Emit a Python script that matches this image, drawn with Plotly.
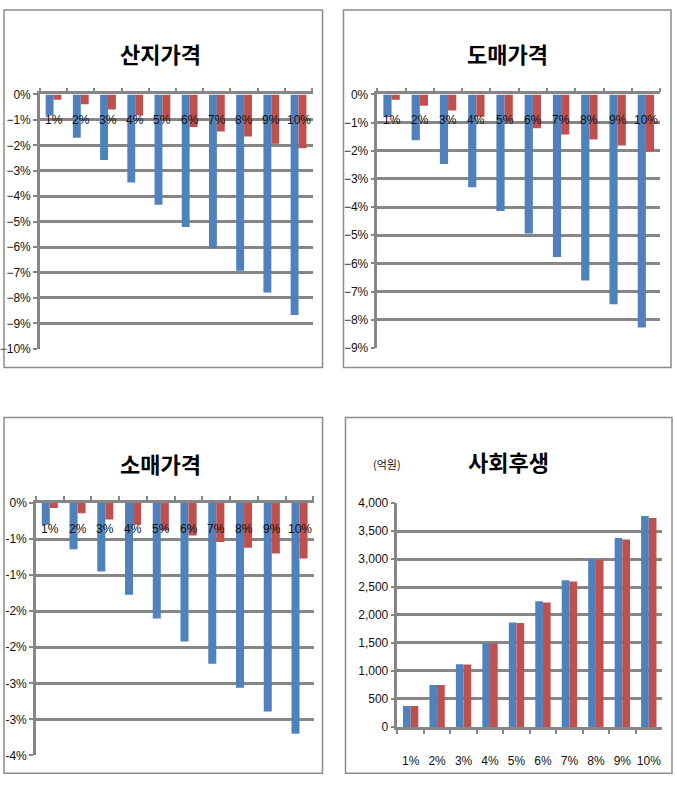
import plotly.graph_objects as go

W, H = 677, 788

categories = ["1%", "2%", "3%", "4%", "5%", "6%", "7%", "8%", "9%", "10%"]

# 산지가격 (%)
farm_blue = [-0.83, -1.70, -2.58, -3.46, -4.34, -5.21, -6.05, -6.93, -7.79, -8.67]
farm_red = [-0.21, -0.39, -0.59, -0.83, -0.99, -1.28, -1.46, -1.65, -1.94, -2.12]

# 도매가격 (%)
whole_blue = [-0.80, -1.63, -2.47, -3.30, -4.14, -4.94, -5.77, -6.61, -7.45, -8.28]
whole_red = [-0.19, -0.40, -0.57, -0.79, -0.96, -1.20, -1.42, -1.60, -1.81, -2.03]

# 소매가격 (%)
retail_blue = [-0.30, -0.64, -0.95, -1.27, -1.60, -1.92, -2.23, -2.56, -2.89, -3.20]
retail_red = [-0.07, -0.14, -0.23, -0.30, -0.38, -0.45, -0.54, -0.62, -0.70, -0.77]
retail_tickvals = [0, -0.5, -1.0, -1.5, -2.0, -2.5, -3.0, -3.5]
retail_ticktext = ["0%", "-1%", "-1%", "-2%", "-2%", "-3%", "-3%", "-4%"]

# 사회후생 (억원)
welfare_blue = [375, 750, 1122, 1495, 1865, 2245, 2620, 3000, 3375, 3770]
welfare_red = [373, 748, 1118, 1490, 1858, 2225, 2598, 2980, 3350, 3733]

titles = ["산지가격", "도매가격", "소매가격", "사회후생"]
unit_label = "(억원)"

BLUE = "#4F81BD"
RED = "#C0504D"
GRID = "#868686"
TICKFONT = dict(family="Liberation Sans Narrow, Arial Narrow, Liberation Sans, Arial", size=12, color="#111111")
TITLEFONT = dict(family="Noto Sans CJK KR", size=22, color="#000000")


def fx(x):
    return x / W


def fy(y):
    return 1 - y / H


# plot-area pixel boxes (left, top, right, bottom) and border boxes
plots = [
    (39, 89, 312, 348),
    (377, 89, 660, 347),
    (35, 505, 313, 762),
    (397, 505, 662, 733),
]
borders = [
    (3, 3, 322, 367),
    (343, 3, 671, 367),
    (3, 418, 322, 780),
    (345, 418, 672, 780),
]
title_pos = [(160, 47), (507, 47), (160, 464), (508, 462)]

series = [
    (farm_blue, farm_red),
    (whole_blue, whole_red),
    (retail_blue, retail_red),
    (welfare_blue, welfare_red),
]

fig = go.Figure()
for i, (b, r) in enumerate(series):
    n = "" if i == 0 else str(i + 1)
    fig.add_trace(go.Bar(x=categories, y=b, marker=dict(color=BLUE, line=dict(width=0)),
                         xaxis="x" + n, yaxis="y" + n, showlegend=False))
    fig.add_trace(go.Bar(x=categories, y=r, marker=dict(color=RED, line=dict(width=0)),
                         xaxis="x" + n, yaxis="y" + n, showlegend=False))

layout = dict(
    width=W, height=H,
    margin=dict(l=0, r=0, t=0, b=0),
    paper_bgcolor="white", plot_bgcolor="white",
    barmode="group", bargap=0.42, bargroupgap=0,
    showlegend=False,
)

yranges = [[-10, 0], [-9, 0], [-3.5, 0], [0, 4000]]

annotations = []

for i, (l, t, r, btm) in enumerate(plots):
    n = "" if i == 0 else str(i + 1)
    xa = dict(
        domain=[fx(l), fx(r)],
        anchor="y" + n,
        type="category",
        showline=True, linecolor=GRID, linewidth=2.5,
        showgrid=False, zeroline=False,
        ticks="outside", ticklen=4, tickcolor=GRID, tickwidth=1.5,
        tickson="boundaries",
        tickfont=TICKFONT, tickangle=0,
        fixedrange=True,
    )
    if i < 3:
        xa.update(side="top", showticklabels=False)
        # category labels sit just below the (top) category axis line, as in Excel
        for c in categories:
            annotations.append(dict(text=c, x=c, xref="x" + n, y=1, yref="y" + n + " domain",
                                    yshift=-26, showarrow=False, xanchor="center", yanchor="middle",
                                    font=TICKFONT))
    else:
        xa.update(side="bottom", ticklabelstandoff=21)
    ya = dict(
        domain=[fy(btm), fy(t)],
        anchor="x" + n,
        range=yranges[i],
        showline=True, linecolor=GRID, linewidth=2.5,
        showgrid=True, gridcolor=GRID, gridwidth=2.5,
        zeroline=False,
        ticks="outside", ticklen=4, tickcolor=GRID, tickwidth=1.5,
        tickfont=TICKFONT,
        fixedrange=True,
    )
    if i in (0, 1):
        ya.update(dtick=1, tick0=0, ticksuffix="%")
    elif i == 2:
        ya.update(tickmode="array", tickvals=retail_tickvals, ticktext=retail_ticktext)
    else:
        ya.update(dtick=500, tick0=0, tickformat=",")
    layout["xaxis" + n] = xa
    layout["yaxis" + n] = ya

shapes = []
for (l, t, r, btm) in borders:
    shapes.append(dict(type="rect", xref="paper", yref="paper",
                       x0=fx(l), x1=fx(r), y0=fy(btm), y1=fy(t),
                       line=dict(color="#8c8c8c", width=1.5), fillcolor="rgba(0,0,0,0)"))
layout["shapes"] = shapes

for (cx, cy), txt in zip(title_pos, titles):
    annotations.append(dict(text="<b>" + txt + "</b>", x=fx(cx), y=fy(cy), xref="paper", yref="paper",
                            showarrow=False, xanchor="center", yanchor="middle", font=TITLEFONT))
annotations.append(dict(text=unit_label, x=fx(387), y=fy(465), xref="paper", yref="paper",
                        showarrow=False, xanchor="center", yanchor="middle",
                        font=dict(family="Noto Sans CJK KR", size=11, color="#111111")))
layout["annotations"] = annotations

fig.update_layout(**layout)
fig.write_html("out.html")
